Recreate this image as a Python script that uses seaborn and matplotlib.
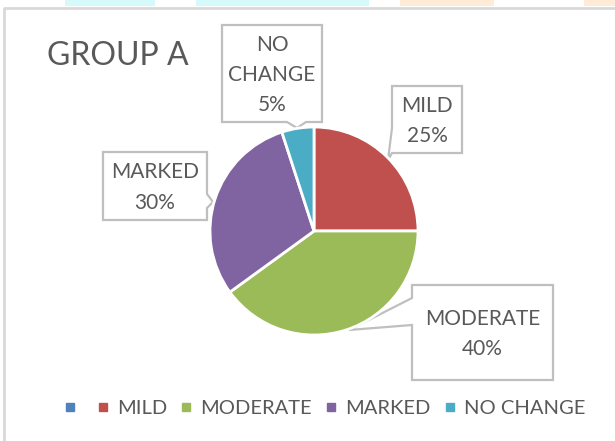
import matplotlib
matplotlib.use("Agg")
import matplotlib.pyplot as plt
from matplotlib.lines import Line2D
from matplotlib.patches import Polygon, Rectangle
import seaborn as sns

# data
categories = ["", "MILD", "MODERATE", "MARKED", "NO CHANGE"]
percent = [0, 25, 40, 30, 5]
colors = ["#4F81BD", "#C0504D", "#9BBB59", "#8064A2", "#4BACC6"]
title = "GROUP A"

sns.set_theme(style="white")
plt.rcParams["font.family"] = ["Lato", "DejaVu Sans"]
text_color = "#595959"
box_gray = "#BFBFBF"

W, H = 615, 441
fig = plt.figure(figsize=(W / 100, H / 100), dpi=100)
fig.patch.set_facecolor("white")

# overlay in pixel coords for frame, title and callouts
over = fig.add_axes([0, 0, 1, 1], zorder=0)
over.set_xlim(0, W)
over.set_ylim(H, 0)
over.axis("off")

# faint watermark strip at the very top
for x0, x1, c in [(65, 155, "#D6FAFA"), (196, 369, "#D6FAFA"),
                  (400, 494, "#FFEBD6"), (584, 615, "#FFEBD6")]:
    over.add_patch(Rectangle((x0, 0), x1 - x0, 6, color=c, lw=0))

# chart frame (left + top edges visible)
over.plot([4, 4, W], [H, 8, 8], color="#D9D9D9", lw=2, solid_capstyle="butt")

over.text(47, 56, title, fontsize=23, color=text_color, ha="left", va="center")

# pie
cx, cy, r = 314, 231, 104
pie_ax = fig.add_axes([(cx - r) / W, 1 - (cy + r) / H, 2 * r / W, 2 * r / H], zorder=1)
pie_ax.patch.set_alpha(0)
vals = [v for v in percent if v > 0]
cols = [c for v, c in zip(percent, colors) if v > 0]
pie_ax.pie(vals, colors=cols, startangle=90, counterclock=False, radius=1,
           wedgeprops=dict(edgecolor="white", linewidth=2))
pie_ax.set_xlim(-1, 1)
pie_ax.set_ylim(-1, 1)
pie_ax.axis("off")


def callout(box, side, a, b, tip, lines):
    x0, y0, x1, y1 = box
    pts = [(x0, y0), (x1, y0)]
    if side == "right":
        pts += [(x1, a), tip, (x1, b)]
    pts += [(x1, y1)]
    if side == "bottom":
        pts += [(b, y1), tip, (a, y1)]
    pts += [(x0, y1)]
    if side == "left":
        pts += [(x0, b), tip, (x0, a)]
    over.add_patch(Polygon(pts, closed=True, facecolor="white", edgecolor=box_gray, lw=1.6))
    over.text((x0 + x1) / 2, (y0 + y1) / 2 + 1.5, lines, ha="center", va="center",
              fontsize=15, color=text_color, linespacing=1.65)


# callout layout: box, notch side, notch span, tip on pie edge
layout = {
    "MILD": ((392, 86, 462, 153), "left", 128, 153, (388, 160)),
    "MODERATE": ((412, 285, 553, 380), "left", 298, 325, (349, 330)),
    "MARKED": ((103, 152, 207, 220), "right", 194, 208, (213, 202)),
    "NO CHANGE": ((222, 25, 322, 122), "bottom", 287, 306, (297, 128)),
}
for cat, pct in zip(categories, percent):
    if cat in layout:
        box, side, a, b, tip = layout[cat]
        callout(box, side, a, b, tip, cat.replace(" ", "\n") + "\n" + f"{pct}%")

# legend
handles = [Line2D([], [], marker="s", linestyle="", color=c, markersize=6) for c in colors]
fig.legend(handles, categories, loc="center", bbox_to_anchor=(324 / W, 1 - 408 / H),
           ncol=5, frameon=False, fontsize=14.5, handlelength=0.7, handletextpad=0.35,
           columnspacing=0.6, labelcolor=text_color)

fig.savefig("out.png", dpi=100, facecolor="white")
